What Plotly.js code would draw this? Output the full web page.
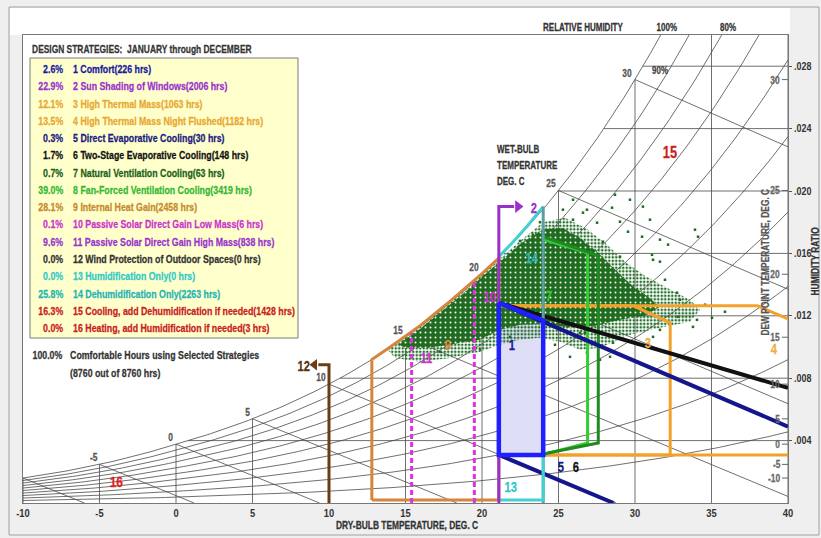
<!DOCTYPE html>
<html><head><meta charset="utf-8">
<script src="https://cdn.plot.ly/plotly-3.0.1.min.js"></script>
<style>html,body{margin:0;padding:0;background:#efefef;}#chart{width:821px;height:538px;}</style>
</head><body><div id="chart"></div>
<script>
// ================= DATA =================
const dryBulbTicks = [-10,-5,0,5,10,15,20,25,30,35,40];
const humidityTicks = [0.004,0.008,0.012,0.016,0.020,0.024,0.028];
const humidityLabels = ['.004','.008','.012','.016','.020','.024','.028'];
const rhLevels = [0.1,0.2,0.3,0.4,0.5,0.6,0.7,0.8,0.9,1.0];
const wetBulbLevels = [-10,-5,0,5,10,15,20,25,30];
const wetBulbLabels = [-5,0,5,10,15,20,25,30];
const dewPointLabels = [-10,-5,0,5,10,15,20,25,30];

const strategyNames = ['Comfort','Sun Shading of Windows','High Thermal Mass','High Thermal Mass Night Flushed',
  'Direct Evaporative Cooling','Two-Stage Evaporative Cooling','Natural Ventilation Cooling','Fan-Forced Ventilation Cooling',
  'Internal Heat Gain','Passive Solar Direct Gain Low Mass','Passive Solar Direct Gain High Mass','Wind Protection of Outdoor Spaces',
  'Humidification Only','Dehumidification Only','Cooling, add Dehumidification if needed','Heating, add Humidification if needed'];
const strategyHours = [226,2006,1063,1182,30,148,63,3419,2458,6,838,0,0,2263,1428,3];
const strategyPercent = [2.6,22.9,12.1,13.5,0.3,1.7,0.7,39.0,28.1,0.1,9.6,0.0,0.0,25.8,16.3,0.0];
const totalPct = 100.0, totalHrs = 8760;

// strategy zone boundaries (dry-bulb degC, humidity ratio)
const comfortT = [21.1,24.0,24.0,21.1,21.1];
const comfortW = [0.01283,0.0117,0.00308,0.00308,0.01283];
const evapTopT = [21.1,40.0];            const evapTopW = [0.01283,0.0049];
const evapBotT = [21.1,28.6];            const evapBotW = [0.00308,0.0];
const twoStageT = [21.1,40.0];           const twoStageW = [0.01283,0.00738];
const massT = [21.1,29.9,32.3,32.3,24.0]; const massW = [0.01264,0.01264,0.01155,0.00308,0.00308];
const nightTopT = [21.1,38.0,40.0];      const nightTopW = [0.01264,0.01264,0.0118];
const nightBotT = [24.0,40.0];           const nightBotW = [0.00308,0.00308];
const natVentT = [24.0,26.9,26.9,24.3];  const natVentW = [0.0169,0.01604,0.00385,0.00318];
const fanT = [24.0,27.6,27.6,24.3,24.0]; const fanW = [0.01707,0.01585,0.00385,0.00321,0.00308];
const shadeT = [21.1,21.1,22.1];         const shadeW = [0.0,0.0190,0.0190];
const windT = [10.0,10.0,9.3];           const windW = [0.0,0.00886,0.00886];
const heatGainT = [12.8,12.8,14.0,16.0,18.0,20.0,21.1,21.1,12.8];
const heatGainW = [0.0002,0.0092,0.0100,0.0114,0.0130,0.0147,0.0157,0.0002,0.0002];
const lowMassT = [19.5,19.5];            const lowMassW = [0.0,0.0142];
const highMassT = [15.4,15.4];           const highMassW = [0.0,0.0109];
const humidT = [21.1,24.0,24.0];         const humidW = [0.0002,0.0002,0.00308];
const dehumT = [21.1,22.0,23.0,24.0];    const dehumW = [0.0158,0.0167,0.0178,0.0190];
const dehumVT = [24.0,24.0];             const dehumVW = [0.0190,0.0];

// hourly climate data cloud (envelopes) + sparse hours
const cloudOuterT = [13.8,15,16,17,18,19,20,21.1,22.48,24.0,25.42,26.73,28.04,29.35,30.65,31.96,33.59,34.25,33.59,31.63,29.67,27.71,26.41,25.1,23.79,22.48,21.18,19.87,17.91,15.95,14.31];
const cloudOuterW = [0.00985,0.01064,0.01137,0.01214,0.01295,0.0138,0.01465,0.0156,0.0168,0.0180,0.01829,0.01765,0.01668,0.01547,0.01457,0.01386,0.01303,0.01239,0.01162,0.01123,0.01078,0.00995,0.00982,0.01033,0.01059,0.01046,0.01014,0.00969,0.0093,0.00905,0.0093];
const cloudCoreT = [14.5,15,16,17,18,19,20,21.1,22.48,24.0,25.23,26.41,27.52,28.5,29.67,30.85,31.63,30.65,29.02,27.39,25.75,24.12,22.48,21.18,19.87,18.24,16.6,14.97];
const cloudCoreW = [0.0102,0.0105,0.0112,0.0120,0.0128,0.0136,0.0145,0.0154,0.0166,0.01755,0.01765,0.01701,0.01611,0.01514,0.01405,0.01322,0.01258,0.0120,0.01174,0.01136,0.01123,0.01149,0.01142,0.0111,0.01046,0.0102,0.00995,0.00995];
const hoursT = [26.6,28.5,29.54,30.46,31.63,31.11,31.63,32.16,33.92,34.12,32.75,32.94,34.05,32.81,31.63,31.18,30.2,28.56,28.37,26.73,29.02,27.52,27.91,29.02,31.18,31.96,33.79,30.52,30.98,26.41,26.86,25.75,25.29,25.95,22.48,23.33,23.79,24.9,26.86,25.95,19.87,21.83,17.25,34.58,35.03,35.88,27.71,24.77,29.67,28.69];
const hoursW = [0.01861,0.01893,0.01739,0.01707,0.01688,0.01591,0.01547,0.01656,0.01752,0.01707,0.01348,0.01303,0.01174,0.01194,0.0111,0.01065,0.01014,0.01027,0.00937,0.01091,0.01803,0.01797,0.01675,0.01579,0.01559,0.01431,0.01129,0.019,0.01816,0.01091,0.00963,0.00937,0.0188,0.01816,0.0168,0.01720,0.01800,0.01733,0.0188,0.01944,0.00982,0.01065,0.00969,0.01271,0.01187,0.01226,0.00918,0.01014,0.01944,0.01976];

// ================= PSYCHROMETRICS (chart scale) =================
const P = 101.325;
function pws(t){ return t>=0 ? 0.61094*Math.exp(17.625*t/(t+243.04)) : 0.61115*Math.exp(22.452*t/(t+272.55)); }
function wAt(t,rh){ const p=rh*pws(t); return 0.622*p/(P-p); }
function tSat(w){ let a=-40,b=60; for(let i=0;i<60;i++){ const m=(a+b)/2; if(wAt(m,1)<w) a=m; else b=m; } return (a+b)/2; }
function wWet(t,twb){ const ws=wAt(twb,1); return ((2501-2.326*twb)*ws-1.006*(t-twb))/(2501+1.86*t-4.186*twb); }
const TMIN=-10, TMAX=40, WMAX=0.030;

const gx=[], gy=[];
rhLevels.forEach(rh=>{ for(let t=TMIN;t<=TMAX+1e-9;t+=0.25){ const w=wAt(t,rh); gx.push(t); gy.push(w); if(w>WMAX) break; } gx.push(null); gy.push(null); });
dryBulbTicks.forEach(t=>{ gx.push(t,t,null); gy.push(0,Math.min(wAt(t,1),WMAX),null); });
humidityTicks.forEach(w=>{ gx.push(tSat(w),TMAX,null); gy.push(w,w,null); });
wetBulbLevels.forEach(tw=>{ const ws=wAt(tw,1); const tEnd=Math.min(TMAX, tw+(2501-2.326*tw)*ws/1.006);
  gx.push(tw,tEnd,null); gy.push(ws,Math.max(0,wWet(tEnd,tw)),null); });

// ================= STYLE =================
const FONT='"Liberation Sans Narrow","Arial Narrow","Liberation Sans",Arial,sans-serif';
const legendColors=['#1a1aa0','#9933cc','#e8a832','#e8a832','#1a1a80','#111111','#1a5f1a','#33b833','#c58a2e','#cc33cc','#9933cc','#333333','#33c8c8','#22b4b4','#c82020','#c82020'];
const px=x=>(x-23)/765, py=y=>(503-y)/468;

function line(x,y,color,width,extra){ return Object.assign({type:'scatter',mode:'lines',x,y,line:{color,width},hoverinfo:'skip',showlegend:false},extra||{}); }
function arrowHead(x,y,color,sym,size){ return {type:'scatter',mode:'markers',x:[x],y:[y],marker:{symbol:sym,size,color},hoverinfo:'skip',showlegend:false,cliponaxis:false}; }

const traces=[
  line(gx,gy,'#4a4a4a',0.8),
  line(comfortT,comfortW,'rgba(0,0,0,0)',0,{fill:'toself',fillcolor:'#dedef7'}),
  line(cloudOuterT,cloudOuterW,'rgba(0,0,0,0)',0,{fill:'toself',fillcolor:'rgba(0,0,0,0)',fillpattern:{shape:'.',fgcolor:'#24702a',bgcolor:'rgba(255,255,255,0)',size:3.5,solidity:0.45}}),
  line(cloudCoreT,cloudCoreW,'rgba(0,0,0,0)',0,{fill:'toself',fillcolor:'#1f6b1f',fillpattern:{shape:'.',fgcolor:'#ffffff',bgcolor:'#1f6b1f',size:5,solidity:0.12}}),
  {type:'scatter',mode:'markers',x:hoursT,y:hoursW,marker:{symbol:'square',size:2.5,color:'#1f6b1f'},hoverinfo:'skip',showlegend:false},
  line(heatGainT,heatGainW,'#d7843c',3),
  line(lowMassT,lowMassW,'#dd33dd',3,{line:{color:'#dd33dd',width:3,dash:'5px,3px'}}),
  line(highMassT,highMassW,'#dd33dd',3,{line:{color:'#dd33dd',width:3,dash:'5px,3px'}}),
  line(windT,windW,'#6b3d14',3), arrowHead(9.05,0.00886,'#6b3d14','triangle-left',10),
  line(massT,massW,'#f2a22a',3),
  line(nightTopT,nightTopW,'#f2a22a',3),
  line(nightBotT,nightBotW,'#f2a22a',3),
  line(natVentT,natVentW,'#33cc33',3),
  line(fanT,fanW,'#1f8a1f',3),
  line(twoStageT,twoStageW,'#111111',4),
  line(evapTopT,evapTopW,'#16168c',4),
  line(evapBotT,evapBotW,'#16168c',4),
  line(dehumT,dehumW,'#44d0d0',3),
  line(dehumVT,dehumVW,'#5aa0a0',3),
  line(humidT,humidW,'#44d0d0',3),
  line(shadeT,shadeW,'#9b30c8',3), arrowHead(22.35,0.0190,'#9b30c8','triangle-right',11),
  line(comfortT,comfortW,'#1f1fff',4.5)
];

const ann=[], narrowF=[];
function A(x,y,text,o,f){ ann.push(Object.assign({x,y,text,showarrow:false,xanchor:'center',yanchor:'middle',font:{family:FONT,size:10.5,color:'#333',weight:'bold'}},o||{})); narrowF.push(f||0.8); }
const PP={xref:'paper',yref:'paper'};
const fnt=(s,c)=>({family:FONT,size:s,color:c,weight:'bold'});
// legend
A(px(30),py(49),'DESIGN STRATEGIES:  JANUARY through DECEMBER',Object.assign({xanchor:'left',font:fnt(10.5,'#333')},PP),0.8);
strategyNames.forEach((n,i)=>{
  const y=py(69+i*17.27), c=legendColors[i];
  A(px(65),y,strategyPercent[i].toFixed(1)+'%',Object.assign({xanchor:'right',font:fnt(11,c)},PP),0.8);
  A(px(71),y,(i+1)+' '+n+'('+strategyHours[i]+' hrs)',Object.assign({xanchor:'left',font:fnt(11,c)},PP),0.8);
});
A(px(65),py(355),totalPct.toFixed(1)+'%',Object.assign({xanchor:'right',font:fnt(11,'#333')},PP),0.8);
A(px(68),py(355),'Comfortable Hours using Selected Strategies',Object.assign({xanchor:'left',font:fnt(11,'#333')},PP),0.8);
A(px(68),py(373),'('+totalHrs+' out of '+totalHrs+' hrs)',Object.assign({xanchor:'left',font:fnt(11,'#333')},PP),0.8);
// headers
A(px(583),py(27),'RELATIVE HUMIDITY',Object.assign({font:fnt(10,'#333')},PP));
A(px(667),py(27),'100%',Object.assign({font:fnt(10,'#333')},PP));
A(px(728),py(27),'80%',Object.assign({font:fnt(10,'#333')},PP));
A(px(660),py(71),'90%',Object.assign({font:fnt(10,'#444')},PP));
A(px(495),py(149),'WET-BULB',Object.assign({xanchor:'left',font:fnt(10,'#333')},PP));
A(px(495),py(165),'TEMPERATURE',Object.assign({xanchor:'left',font:fnt(10,'#333')},PP));
A(px(495),py(181),'DEG. C',Object.assign({xanchor:'left',font:fnt(10,'#333')},PP));
A(px(407),py(525),'DRY-BULB TEMPERATURE, DEG. C',Object.assign({font:fnt(10.5,'#333')},PP));
A(px(765),py(262),'DEW POINT TEMPERATURE, DEG. C',Object.assign({textangle:-90,font:fnt(10.5,'#555')},PP));
A(px(815),py(262),'HUMIDITY RATIO',Object.assign({textangle:-90,font:fnt(10.5,'#333')},PP));
// wet bulb labels on saturation curve
wetBulbLabels.forEach(t=>A(t,wAt(t,1),String(t),{xanchor:'right',yanchor:'bottom',xshift:-1,yshift:-1,font:fnt(10.5,'#555')}));
// dew point scale
const shapes=[];
dewPointLabels.forEach(t=>{ const w=wAt(t,1);
  A(px(782),w,String(t),{xref:'paper',yref:'y',xanchor:'right',font:fnt(10.5,'#666')});
  shapes.push({type:'line',xref:'x',yref:'y',x0:39.6,x1:40,y0:w,y1:w,line:{color:'#666',width:1}});
});
// zone labels
const zl=(x,y,t,c,s)=>A(x,y,t,{font:fnt(s||14,c)});
zl(21.96,0.01014,'1','#1a1aa0'); zl(23.4,0.01893,'2','#9933cc'); zl(30.85,0.01027,'3','#f0b040');
zl(39.1,0.00985,'4','#f0b040'); zl(25.16,0.00231,'5','#1a1a80'); zl(26.14,0.00231,'6','#111111');
zl(24.38,0.01328,'7','#33cc33'); zl(17.78,0.01014,'9','#d7843c'); zl(20.52,0.01322,'10','#cc33cc');
zl(16.4,0.0093,'11','#cc33cc'); zl(8.37,0.00879,'12','#5a3310'); zl(21.9,0.00103,'13','#33c8c8');
zl(23.27,0.01572,'14','#33b8b8'); zl(32.29,0.02246,'15','#cc2020',16); zl(-3.92,0.00135,'16','#dd2020',15);

// frame/background shapes
shapes.push({type:'rect',xref:'paper',yref:'paper',x0:px(10),x1:px(790),y0:py(8),y1:py(35),fillcolor:'#ffffff',line:{width:0},layer:'below'});
shapes.push({type:'rect',xref:'paper',yref:'paper',x0:px(9),x1:px(819),y0:py(7),y1:py(535),line:{color:'#a0a0a0',width:1},fillcolor:'rgba(0,0,0,0)',layer:'above'});
shapes.push({type:'rect',xref:'paper',yref:'paper',x0:px(30),x1:px(298),y0:py(58),y1:py(338),line:{color:'#7a7a7a',width:1},fillcolor:'#ffffcc',layer:'above'});

const layout={
  width:821,height:538,margin:{l:23,r:33,t:35,b:35},
  paper_bgcolor:'#efefef',plot_bgcolor:'#ffffff',showlegend:false,
  font:{family:FONT,size:10,color:'#333'},
  xaxis:{range:[TMIN,TMAX],tickvals:dryBulbTicks,ticktext:dryBulbTicks.map(String),showgrid:false,zeroline:false,
    showline:true,mirror:true,linecolor:'#777',linewidth:1,ticks:'',tickfont:fnt(11,'#333')},
  yaxis:{range:[0,WMAX],side:'right',tickvals:humidityTicks,ticktext:humidityLabels,showgrid:false,zeroline:false,
    showline:true,mirror:true,linecolor:'#777',linewidth:1,ticks:'outside',ticklen:3,tickcolor:'#555',
    tickfont:fnt(10.5,'#333')},
  annotations:ann,shapes:shapes
};
Plotly.newPlot('chart',traces,layout,{staticPlot:true,displayModeBar:false}).then(()=>{
  // emulate the narrow, heavy typeface of the original by condensing text horizontally
  document.querySelectorAll('#chart g.annotation').forEach(g=>{
    const i=+g.getAttribute('data-index'); const a=ann[i]; const el=g.querySelector('text.annotation-text');
    if(!el||!a) return; const b=el.getBBox(); const f=narrowF[i];
    const ox = a.xanchor==='left' ? b.x : a.xanchor==='right' ? b.x+b.width : b.x+b.width/2;
    const prev=el.getAttribute('transform')||'';
    el.setAttribute('transform',prev+` translate(${ox},0) scale(${f},1) translate(${-ox},0)`);
    el.style.stroke=a.font.color; el.style.strokeWidth='0.25px';
  });
  document.querySelectorAll('#chart .xtick text, #chart .ytick text').forEach(el=>{
    const b=el.getBBox(); const ox=el.closest('.ytick')? b.x : b.x+b.width/2;
    const prev=el.getAttribute('transform')||'';
    el.setAttribute('transform',prev+` translate(${ox},0) scale(0.85,1) translate(${-ox},0)`);
  });
});
</script></body></html>
